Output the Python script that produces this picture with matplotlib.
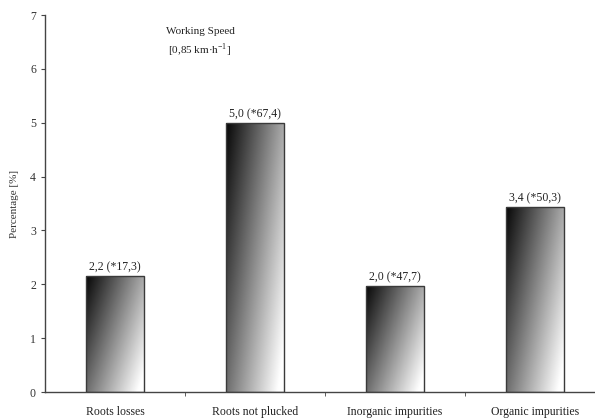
import numpy as np
import matplotlib.pyplot as plt
from matplotlib.patches import Rectangle

plt.rcParams['font.family'] = ['Liberation Serif', 'DejaVu Serif']

categories = ["Roots losses", "Roots not plucked", "Inorganic impurities", "Organic impurities"]
values = [2.15, 5.0, 1.97, 3.43]
labels = ["2,2 (*17,3)", "5,0 (*67,4)", "2,0 (*47,7)", "3,4 (*50,3)"]

fig = plt.figure(figsize=(5.95, 4.19), dpi=100)
ax = fig.add_axes([45 / 595, 27 / 419, 550 / 595, 377 / 419])

x = np.arange(len(categories))
width = 0.41

# gradient: dark top-left -> light bottom-right, mostly left to right
gx, gy = np.meshgrid(np.linspace(0, 1, 100), np.linspace(0, 1, 200))
grad = 0.7 * gx + 0.45 * gy

for xi, v, lab in zip(x, values, labels):
    rect = Rectangle((xi - width / 2, 0), width, v, facecolor='none',
                     edgecolor='#3a3a3a', linewidth=1.0, zorder=3)
    ax.add_patch(rect)
    im = ax.imshow(grad, cmap='gray', vmin=-0.03, vmax=1.08, aspect='auto',
                   extent=(xi - width / 2, xi + width / 2, 0, v),
                   origin='upper', zorder=2, interpolation='bilinear')
    im.set_clip_path(rect)
    ax.text(xi, v + 0.05, lab, ha='center', va='bottom', fontsize=8.5, color='#222222')

ax.set_xlim(-0.5, -0.5 + 550 / 140)
ax.set_ylim(0, 7)
ax.set_yticks(range(0, 8))
ax.set_xticks(x)
ax.set_xticklabels(categories, fontsize=8.5)
ax.set_xticks(np.arange(0.5, 3.5, 1), minor=True)
ax.tick_params(axis='x', which='major', length=0, pad=10, colors='#222222')
ax.tick_params(axis='x', which='minor', length=3, direction='out', color='#444444')
ax.tick_params(axis='y', length=3, labelsize=8.5, color='#444444', colors='#333333')
for s in ['top', 'right']:
    ax.spines[s].set_visible(False)
for s in ['left', 'bottom']:
    ax.spines[s].set_color('#444444')
    ax.spines[s].set_linewidth(1.0)

ax.set_ylabel("Percentage [%]", fontsize=8, color='#333333', labelpad=8)

fig.text(200 / 595, 1 - 31 / 419, "Working Speed", ha='center', va='center', fontsize=8, color='#222222')
fig.text(200 / 595, 1 - 50 / 419, "[0,85 km·h$^{\\mathregular{-1}}$]", ha='center', va='center', fontsize=8, color='#222222')

fig.savefig("out.png", dpi=100)
